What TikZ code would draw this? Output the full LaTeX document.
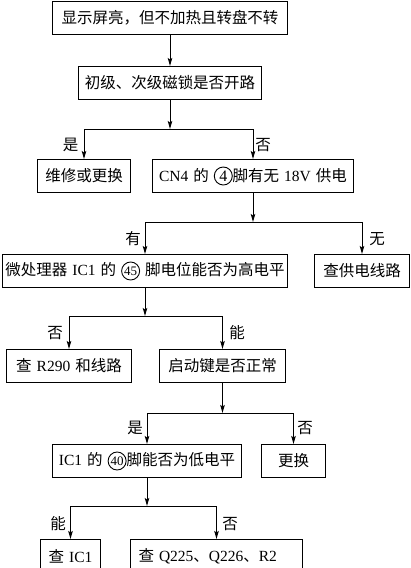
\documentclass[tikz,border=0pt]{standalone}
\usepackage{fontspec}
\setmainfont{Noto Sans CJK SC}
\newfontfamily\lat{Liberation Serif}
\usetikzlibrary{arrows.meta,positioning}
\newcommand{\kgap}{\hspace{5pt}}
\newcommand{\cnum}[2][16pt]{\tikz[baseline=(cn.base)]\node[circle, draw, line width=0.9pt,
  inner sep=0pt, minimum size=18pt, font=\lat\fontsize{#1}{#1}\selectfont] (cn) {#2};}
\tikzset{
  blk/.style={draw, rectangle, minimum height=33pt, align=center, inner xsep=2pt,
    font=\fontsize{15.5pt}{18pt}\selectfont, line width=1pt},
  lbl/.style={font=\fontsize{15.5pt}{18pt}\selectfont, inner sep=0pt},
  arr/.style={-{Stealth[length=8pt, width=4.5pt, inset=1.5pt]}, line width=1pt},
}

\begin{document}
\begin{tikzpicture}[x=1pt, y=-1pt, node distance=61pt]
\useasboundingbox (0,0) rectangle (411,568);

\node[blk, minimum width=235pt] (start) at (170,18)
  {显示屏亮，但不加热且转盘不转};
\node[blk, below=31pt of start, minimum width=183pt] (lock)
  {初级、次级磁锁是否开路};

\node[blk, below=59pt of lock, xshift=-86pt, minimum width=93pt] (repair)
  {维修或更换};
\node[blk, below=59pt of lock, xshift=83pt, minimum width=201pt] (cnfour)
  {{\lat CN4}\kgap 的\kgap\cnum{4}脚有无\kgap{\lat 18V}\kgap 供电};

\node[blk, below=of cnfour, xshift=-108pt, minimum width=285pt] (pinhigh)
  {微处理器\kgap{\lat IC1}\kgap 的\kgap\cnum[13pt]{45}\kgap 脚电位能否为高电平};
\node[blk, below=of cnfour, xshift=109pt, minimum width=95pt] (supply)
  {查供电线路};

\node[blk, below=of pinhigh, xshift=-76pt, minimum width=125pt] (resist)
  {查\kgap{\lat R290}\kgap 和线路};
\node[blk, below=of pinhigh, xshift=77.5pt, minimum width=126pt] (startkey)
  {启动键是否正常};

\node[blk, below=of startkey, xshift=-75.5pt, minimum width=189pt] (pinlow)
  {{\lat IC1}\kgap 的\kgap\cnum[13pt]{40}脚能否为低电平};
\node[blk, below=of startkey, xshift=71pt, minimum width=64pt] (swap)
  {更换};

\node[blk, below=of pinlow, xshift=-76.5pt, minimum width=60pt] (chkic)
  {查\kgap{\lat IC1}};
\node[blk, below=of pinlow, xshift=69.5pt, minimum width=172pt, text width=156pt, align=left] (chkq)
  {查\kgap{\lat Q225}、{\lat Q226}、{\lat R2}};

% branch points
\coordinate (jlock) at ([yshift=-29pt]lock.south);
\coordinate (jcn) at ([yshift=-29pt]cnfour.south);
\coordinate (jhigh) at ([yshift=-28pt]pinhigh.south);
\coordinate (jkey) at ([yshift=-30pt]startkey.south);
\coordinate (jlow) at ([yshift=-28pt]pinlow.south);

\draw[arr] (start) -- (lock);
\draw[arr] (lock) -- (jlock);
\draw[arr] (jlock) -| (repair);
\draw[arr] (jlock) -| (cnfour);
\draw[arr] (cnfour) -- (jcn);
\draw[arr] (jcn) -| (pinhigh);
\draw[arr] (jcn) -| (supply);
\draw[arr] (pinhigh) -- (jhigh);
\draw[arr] (jhigh) -| (resist);
\draw[arr] (jhigh) -| (startkey);
\draw[arr] (startkey) -- (jkey);
\draw[arr] (jkey) -| (pinlow);
\draw[arr] (jkey) -| (swap);
\draw[arr] (pinlow) -- (jlow);
\draw[arr] (jlow) -| (chkic);
\draw[arr] (jlow) -| (chkq);

% branch labels
\node[lbl] at ([xshift=-13.5pt, yshift=14pt]repair.north) {是};
\node[lbl] at ([xshift=10pt, yshift=14pt]cnfour.north) {否};
\node[lbl] at ([xshift=-12pt, yshift=15pt]pinhigh.north) {有};
\node[lbl] at ([xshift=15pt, yshift=15pt]supply.north) {无};
\node[lbl] at ([xshift=-14pt, yshift=16pt]resist.north) {否};
\node[lbl] at ([xshift=14.5pt, yshift=16pt]startkey.north) {能};
\node[lbl] at ([xshift=-12pt, yshift=16pt]pinlow.north) {是};
\node[lbl] at ([xshift=11.5pt, yshift=16pt]swap.north) {否};
\node[lbl] at ([xshift=-12.5pt, yshift=15pt]chkic.north) {能};
\node[lbl] at ([xshift=13.5pt, yshift=15pt]chkq.north) {否};

\end{tikzpicture}
\end{document}
